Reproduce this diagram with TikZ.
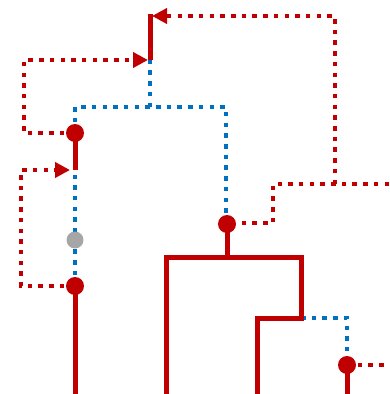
\documentclass[tikz,border=0pt]{standalone}
\usetikzlibrary{arrows.meta}

\definecolor{netred}{HTML}{C00000}
\definecolor{netblue}{HTML}{0070C0}
\definecolor{netgray}{HTML}{A6A6A6}

\tikzset{
  tree/.style={netred,line width=5pt},
  hyb/.style={netred,line width=4.5pt,dash pattern=on 4.5pt off 6.2pt},
  lost/.style={netblue,line width=4.5pt,dash pattern=on 4.5pt off 6.2pt},
  hybtip/.style={-{Triangle[length=15pt,width=15pt]}},
  vert/.style={circle,fill=netred,inner sep=0pt,minimum size=18pt},
  ghost/.style={circle,fill=netgray,inner sep=0pt,minimum size=17pt}
}

\begin{document}
\begin{tikzpicture}[x=1pt,y=-1pt]
  \useasboundingbox (0,0) rectangle (389,394);

  % leaves at the bottom edge
  \coordinate (l1) at (75,394);
  \coordinate (l2) at (166,394);
  \coordinate (l3) at (257,394);
  \coordinate (l4) at (347,394);

  % dotted lines first, vertices drawn on top
  \coordinate (a1) at (75,170);
  \coordinate (b1) at (75,107);
  \coordinate (b2) at (150,107);
  \coordinate (b3) at (226,107);
  \coordinate (t1) at (150,60);
  \coordinate (t2) at (150,14);
  \coordinate (r1) at (335,16);
  \coordinate (r2) at (335,184);
  \coordinate (r3) at (273,184);
  \coordinate (r4) at (273,223);
  \coordinate (d1) at (301,257);
  \coordinate (d2) at (301,318);
  \coordinate (d3) at (347,318);
  \coordinate (e1) at (166,257);
  \coordinate (e2) at (257,318);
  \coordinate (c1) at (227,257);

  \draw[lost] (75,286) -- (a1);
  \draw[lost] (75,133) -- (b1) -- (b3) -- (226,223);
  \draw[lost] (b2) -- (t1);
  \draw[lost] (d2) -- (d3) -- (347,365);

  \draw[tree] (a1) -- (75,133);
  \draw[tree] (t1) -- (t2);
  \draw[tree] (75,286) -- (l1);
  \draw[tree] (227,223) -- (c1);
  \draw[tree,line join=miter] (l2) -- (e1) -- (d1) -- (d2) -- (e2) -- (l3);
  \draw[tree] (347,365) -- (l4);

  \draw[hyb,hybtip] (75,133) -- (24,133) -- (24,60) -- (148,60);
  \draw[hyb,hybtip] (75,286) -- (21,286) -- (21,170) -- (70,170);
  \draw[hyb,hybtip] (r2) -- (r1) -- (152,16);
  \draw[hyb] (389,184) -- (r3) -- (r4) -- (227,223);
  \draw[hyb] (347,365) -- (389,365);

  \node[vert] (nB) at (75,133) {};
  \node[ghost] (nG) at (75,240) {};
  \node[vert] (nA) at (75,286) {};
  \node[vert] (nC) at (227,224) {};
  \node[vert] (nD) at (347,365) {};
\end{tikzpicture}
\end{document}
